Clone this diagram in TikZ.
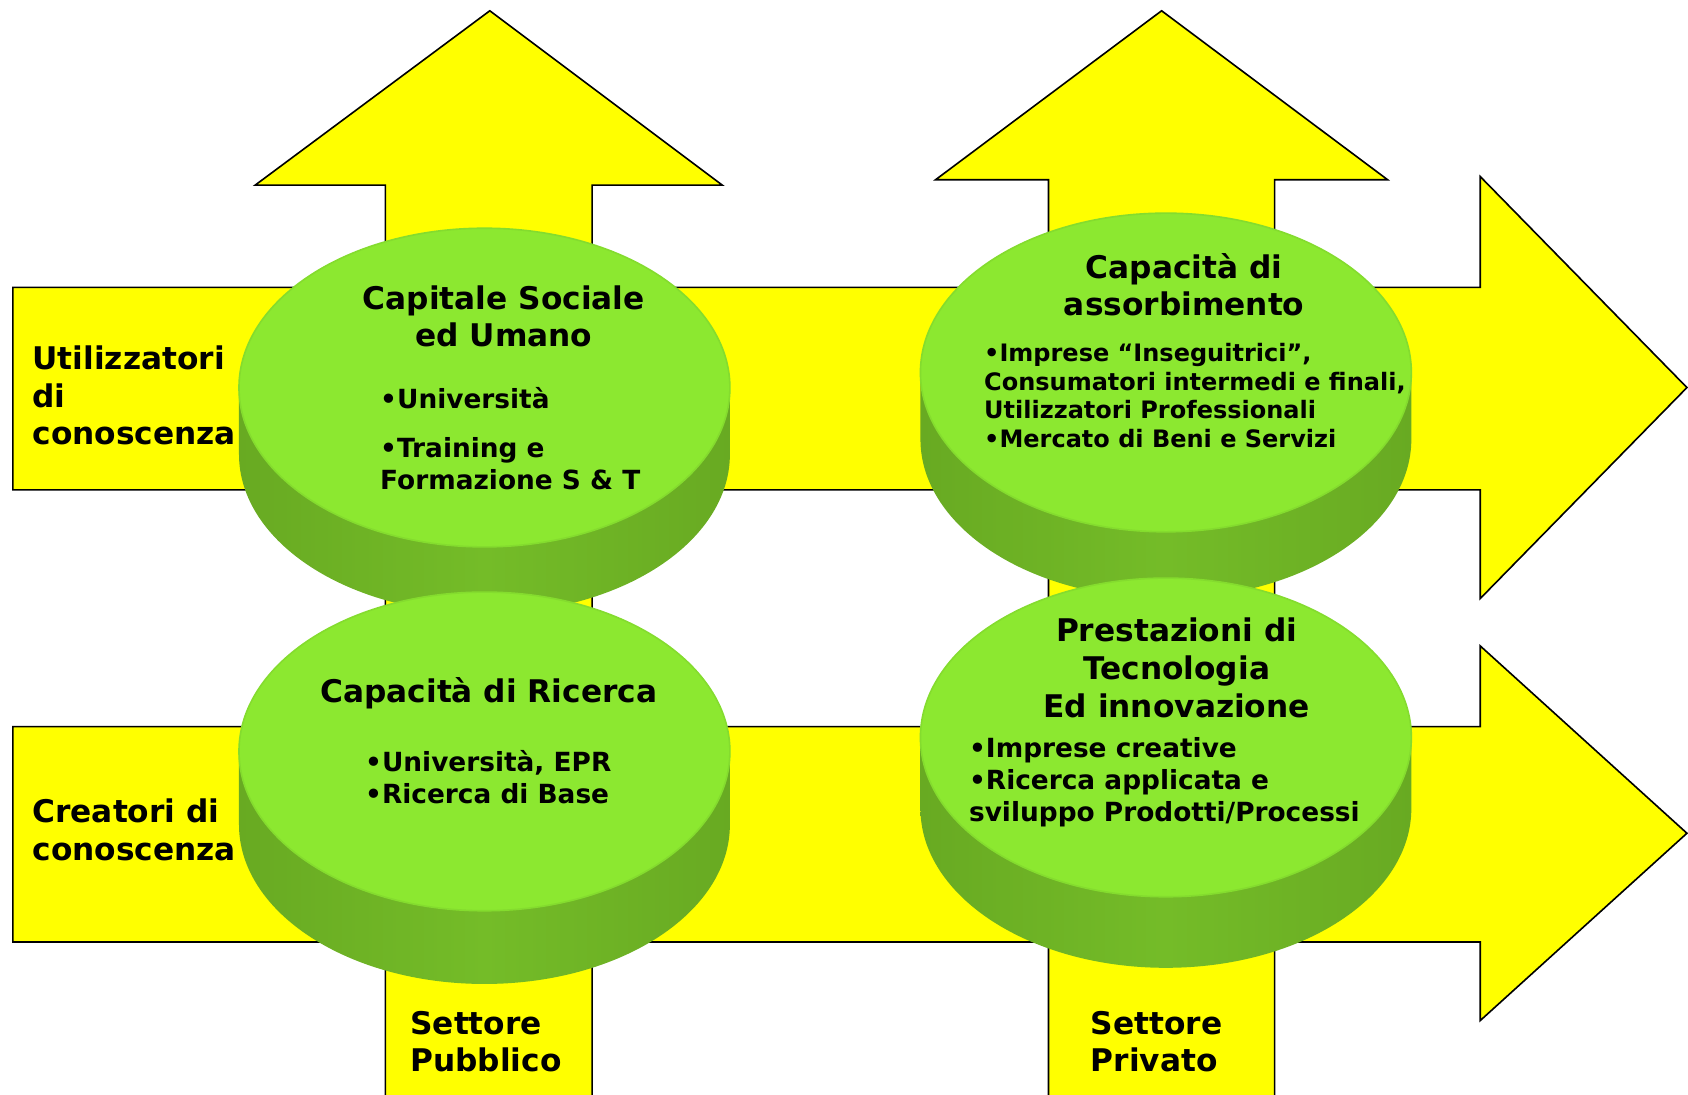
\documentclass[tikz,border=0pt]{standalone}
\usepackage{fontspec}
\setmainfont{DejaVu Sans}
\usepackage{xcolor}
\usepackage{tikz}
\definecolor{CFFFF00}{HTML}{FFFF00}
\definecolor{C8CE830}{HTML}{8CE830}
\definecolor{C84DC2E}{HTML}{84DC2E}
\definecolor{C68AA22}{HTML}{68AA22}
\definecolor{C74BC28}{HTML}{74BC28}
\newcommand\cyl[3]{
\path [left color=C68AA22,right color=C68AA22,middle color=C74BC28] (#1-228,#2) -- (#1-228,#2+#3) arc (180:0:228 and 148) -- (#1+228,#2) -- cycle;
\path [fill=C8CE830,draw=C84DC2E,line width=1.5pt] (#1,#2) ellipse [x radius=228,y radius=148];
}

\begin{document}
\begin{tikzpicture}[x=1pt,y=-1pt,inner sep=0pt,
  arr/.style={fill=CFFFF00,draw=black,line width=1.5pt,line join=miter},
  big/.style={font=\bfseries\fontsize{29}{35}\selectfont},
  small/.style={font=\bfseries\fontsize{24.5}{29.5}\selectfont}]
\useasboundingbox (0,0) rectangle (1568,1017);

\path [arr] (455,10) -- (671,172) -- (550,172) -- (550,1030) -- (358,1030) -- (358,172) -- (237,172) -- cycle;
\path [arr] (1079,10) -- (1289,167) -- (1184,167) -- (1184,1030) -- (974,1030) -- (974,167) -- (869,167) -- cycle;
\path [arr] (12,267) -- (1375,267) -- (1375,164) -- (1567,360) -- (1375,556) -- (1375,455) -- (12,455) -- cycle;
\path [arr] (12,675) -- (1375,675) -- (1375,600) -- (1567,774) -- (1375,948) -- (1375,875) -- (12,875) -- cycle;

\cyl{450}{360}{62}
\cyl{1083}{346}{62}
\cyl{450}{698}{68}
\cyl{1083}{685}{66}

\node (n0) [big,align=center,anchor=north,at={(468,265)}] {Capitale Sociale\\ed Umano};
\node (n1) [small,align=left,anchor=north west,at={(353,360)}] {•Università\\[16pt]•Training e\\Formazione S \& T};
\node (n2) [big,align=center,anchor=north,at={(1100,235)}] {Capacità di\\assorbimento};
\node (n3) [font=\bfseries\fontsize{22.3}{26.5}\selectfont,align=left,anchor=north west,at={(914,319)}] {•Imprese “Inseguitrici”,\\Consumatori intermedi e finali,\\Utilizzatori Professionali\\•Mercato di Beni e Servizi};
\node (n4) [big,align=center,anchor=north,at={(454,629)}] {Capacità di Ricerca};
\node (n5) [small,align=left,anchor=north west,at={(339,697)}] {•Università, EPR\\•Ricerca di Base};
\node (n6) [big,align=center,anchor=north,at={(1093,574)}] {Prestazioni di\\Tecnologia\\Ed innovazione};
\node (n7) [small,align=left,anchor=north west,at={(900,685)}] {•Imprese creative\\•Ricerca applicata e\\sviluppo Prodotti/Processi};
\node (n8) [big,align=left,anchor=north west,at={(30,321)}] {Utilizzatori\\di\\conoscenza};
\node (n9) [big,align=left,anchor=north west,at={(30,742)}] {Creatori di\\conoscenza};
\node (n10) [big,align=left,anchor=north west,at={(381,939)}] {Settore\\Pubblico};
\node (n11) [big,align=left,anchor=north west,at={(1013,939)}] {Settore\\Privato};
\end{tikzpicture}
\end{document}
